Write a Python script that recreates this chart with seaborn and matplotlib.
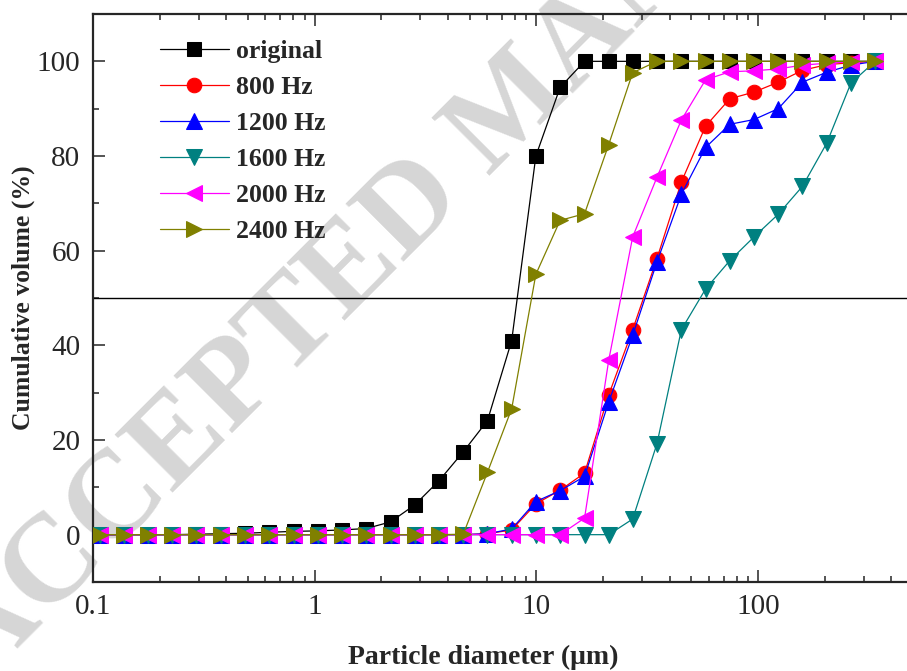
import numpy as np
import pandas as pd
import matplotlib
matplotlib.use("Agg")
import matplotlib.pyplot as plt
import seaborn as sns
from matplotlib.ticker import FixedLocator, MultipleLocator, NullFormatter

# particle size classes (um)
diameter = [0.107, 0.138, 0.177, 0.228, 0.293, 0.377, 0.486, 0.624, 0.803,
            1.03, 1.33, 1.71, 2.20, 2.83, 3.64, 4.68, 6.02, 7.74, 9.95,
            12.8, 16.5, 21.2, 27.2, 35.0, 45.1, 58.0, 74.6, 95.9, 123.4,
            158.7, 204.1, 262.5, 337.7]

# cumulative volume (%)
original = [0, 0, 0, 0, 0.1, 0.2, 0.3, 0.5, 0.7, 0.8, 1.0, 1.3, 2.7, 6.3,
            11.4, 17.5, 24.1, 41.0, 80.0, 94.5, 100, 100, 100, 100, 100,
            100, 100, 100, 100, 100, 100, 100, 100]
hz800 = [0, 0, 0, 0, 0, 0, 0, 0, 0, 0, 0, 0, 0, 0, 0, 0, 0.2, 1.0, 6.5,
         9.4, 13.0, 29.5, 43.3, 58.3, 74.5, 86.3, 92.1, 93.5, 95.6, 98.1,
         99.3, 99.7, 100]
hz1200 = [0, 0, 0, 0, 0, 0, 0, 0, 0, 0, 0, 0, 0, 0, 0, 0, 0.2, 1.2, 7.0,
          9.3, 12.3, 28.0, 42.1, 57.6, 71.9, 81.8, 86.7, 87.7, 90.0, 95.6,
          97.7, 99.2, 100]
hz1600 = [0, 0, 0, 0, 0, 0, 0, 0, 0, 0, 0, 0, 0, 0, 0, 0, 0, 0, 0, 0, 0,
          0, 3.3, 19.2, 43.3, 51.9, 57.9, 62.9, 67.7, 73.6, 82.7, 95.4, 100]
hz2000 = [0, 0, 0, 0, 0, 0, 0, 0, 0, 0, 0, 0, 0, 0, 0, 0, 0, 0, 0, 0, 3.5,
          36.8, 62.9, 75.5, 87.6, 96.1, 97.8, 98.0, 98.4, 99.2, 99.6, 99.9,
          100]
hz2400 = [0, 0, 0, 0, 0, 0, 0, 0, 0, 0, 0, 0, 0, 0, 0, 0.1, 13.2, 26.6,
          55.0, 66.4, 67.8, 82.4, 97.6, 100, 100, 100, 100, 100, 100, 100,
          100, 100, 100]

labels = ["original", "800 Hz", "1200 Hz", "1600 Hz", "2000 Hz", "2400 Hz"]
series = [original, hz800, hz1200, hz1600, hz2000, hz2400]
colors = ["#000000", "#ff0000", "#0000ff", "#008080", "#ff00ff", "#808000"]
markers = ["s", "o", "^", "v", "<", ">"]
msizes = [9.5, 10.5, 11.5, 11.5, 11.5, 11.5]

df = pd.concat(
    [pd.DataFrame({"diameter": diameter, "volume": v, "sample": lab})
     for lab, v in zip(labels, series)],
    ignore_index=True,
)

sns.set_style("ticks")
plt.rcParams["font.family"] = ["Liberation Serif", "DejaVu Serif"]

fig = plt.figure(figsize=(9.07, 6.71), dpi=100)
ax = fig.add_axes([93 / 907, 1 - 582 / 671, 1 - 93 / 907, 568 / 671])
ax.set_facecolor("none")

# watermark behind the axes
fig.text(-0.045, 0.010, "ACCEPTED MANUSCRIPT", fontsize=90,
         fontweight="bold", color="#d6d6d6", rotation=45,
         rotation_mode="anchor", ha="left", va="center", zorder=-5)

ax.axhline(50, color="black", lw=1.0, zorder=1)

for lab, col, mk, ms in zip(labels, colors, markers, msizes):
    sns.lineplot(data=df[df["sample"] == lab], x="diameter", y="volume",
                 ax=ax, color=col, marker=mk, markersize=ms,
                 markeredgecolor=col, lw=0.9, label=lab, zorder=3)

ax.set_xscale("log")
ax.set_xlim(0.1, 470)
ax.set_ylim(-10, 110)
ax.xaxis.set_major_locator(FixedLocator([0.1, 1, 10, 100]))
ax.set_xticklabels(["0.1", "1", "10", "100"])
ax.xaxis.set_minor_formatter(NullFormatter())
ax.yaxis.set_major_locator(FixedLocator([0, 20, 40, 60, 80, 100]))
ax.yaxis.set_minor_locator(MultipleLocator(10))

ax.tick_params(axis="both", which="both", direction="in", top=True,
               right=False, labelsize=21, width=1.1, pad=9)
ax.tick_params(which="major", length=8.5)
ax.tick_params(which="minor", length=4.3)
for side in ["left", "bottom", "top"]:
    ax.spines[side].set_linewidth(1.6)
ax.spines["right"].set_visible(False)

ax.set_xlabel("Particle diameter (μm)", fontsize=20, fontweight="bold")
ax.xaxis.set_label_coords(0.479, -0.111)
ax.set_ylabel("Cumulative volume (%)", fontsize=18.5, fontweight="bold",
              labelpad=1)

leg = ax.legend(loc="upper left", bbox_to_anchor=(0.082, 0.9535),
                frameon=False, prop={"size": 18.5, "weight": "bold"},
                handlelength=2.7, handletextpad=0.28, labelspacing=0.5,
                borderpad=0, borderaxespad=0, numpoints=1)

fig.savefig("out.png", dpi=100)
